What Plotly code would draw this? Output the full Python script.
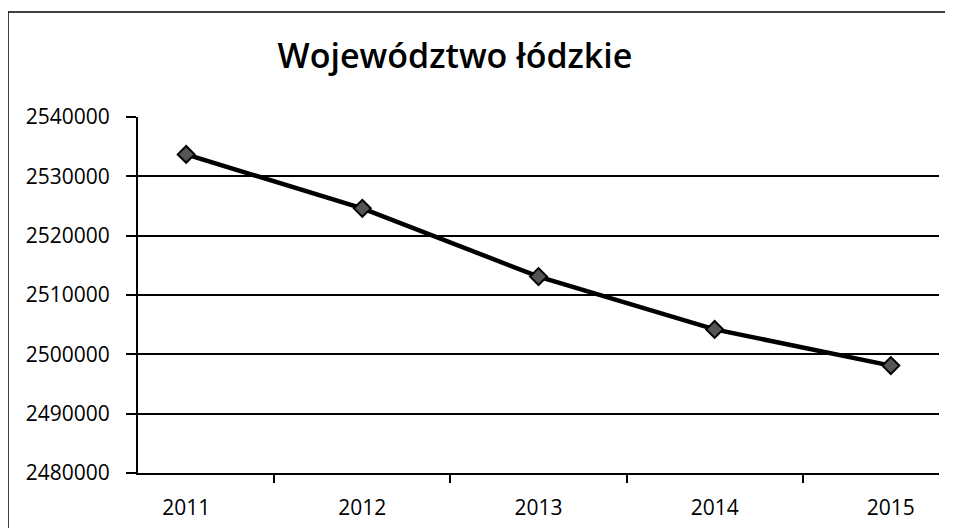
import plotly.graph_objects as go

years = ["2011", "2012", "2013", "2014", "2015"]
population = [2533700, 2524600, 2513100, 2504200, 2498100]
y_ticks = [2480000, 2490000, 2500000, 2510000, 2520000, 2530000, 2540000]
title_text = "Województwo łódzkie"

fig = go.Figure()
fig.add_trace(go.Scatter(
    x=years, y=population, mode="lines+markers",
    line=dict(color="black", width=4.5),
    marker=dict(symbol="diamond", size=13, color="#555555",
                line=dict(color="black", width=2)),
    showlegend=False,
))

fig.update_layout(
    width=945, height=520,
    margin=dict(l=130, r=14, t=109, b=55, autoexpand=False),
    paper_bgcolor="white", plot_bgcolor="white",
    font=dict(family="Open Sans, Lato, sans-serif", color="black", size=20),
    title=dict(text=title_text, xref="container", x=0.473, xanchor="center",
               yref="container", y=0.908, yanchor="middle",
               font=dict(size=34, color="black", weight=600,
                         family="Open Sans, Lato, sans-serif")),
    xaxis=dict(type="category", showgrid=False, showline=True, linecolor="black",
               linewidth=2, ticks="outside", tickson="boundaries", ticklen=8,
               tickcolor="black", tickwidth=2, tickfont=dict(size=21),
               ticklabelstandoff=15, automargin=False),
    yaxis=dict(range=[2480000, 2540000], tickvals=y_ticks, tickformat="d",
               showgrid=True, gridcolor="black", gridwidth=2,
               showline=True, linecolor="black", linewidth=2,
               ticks="outside", ticklen=10, tickcolor="black", tickwidth=2,
               zeroline=False, tickfont=dict(size=21), ticklabelstandoff=12,
               automargin=False),
    shapes=[
        dict(type="line", xref="paper", yref="paper", x0=-0.1623, x1=-0.1623,
             y0=-0.3, y1=1.295, line=dict(color="black", width=1.5)),
        dict(type="line", xref="paper", yref="paper", x0=-0.1623, x1=1.1,
             y0=1.295, y1=1.295, line=dict(color="black", width=1.5)),
    ],
)

fig.write_html("out.html")
